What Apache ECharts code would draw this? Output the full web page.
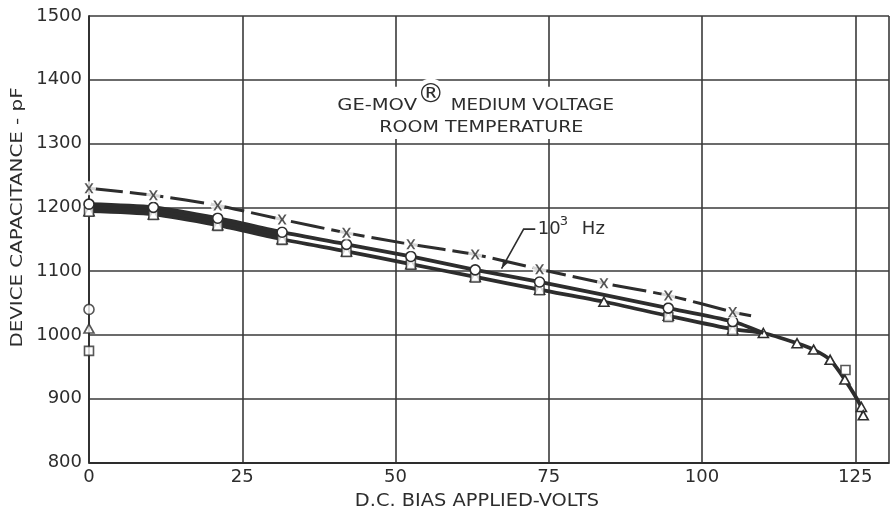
<!DOCTYPE html>
<html><head><meta charset="utf-8">
<script src="https://cdn.jsdelivr.net/npm/echarts@6/dist/echarts.min.js"></script>
<style>html,body{margin:0;padding:0;background:#fff}#c{width:892px;height:518px}</style>
</head><body><div id="c"></div>
<script>
// ---- tick labels ----
const xTickValues = [0, 25, 50, 75, 100, 125];
const yTickValues = [800, 900, 1000, 1100, 1200, 1300, 1400, 1500];

// ---- series: "x" markers (dashed curve) ----
const voltsX = [0, 10.5, 21, 31.5, 42, 52.5, 63, 73.5, 84, 94.5, 105];
const capX   = [1230, 1219, 1203, 1181, 1160, 1142, 1126, 1103, 1081, 1062, 1036];
const voltsXTail = 108;
const capXTail = 1030;

// ---- series: circles (upper edge of band, 10^3 Hz) ----
const voltsCircle = [0, 10.5, 21, 31.5, 42, 52.5, 63, 73.5, 94.5, 105];
const capCircle   = [1205, 1200, 1183, 1161, 1142, 1123, 1102, 1083, 1042, 1021];
const circleJoinVolts = 110;
const circleJoinCap = 1003;

// ---- series: triangles (lower curve, continues to breakdown) ----
const voltsTri = [0, 10.5, 21, 31.5, 42, 52.5, 63, 73.5, 84, 94.5, 105, 110, 115.5, 118.2, 120.9, 123.3, 126, 126.3];
const capTri   = [1194, 1189, 1172, 1150, 1131, 1111, 1091, 1071, 1052, 1030, 1009, 1003, 987, 977, 961, 930, 887, 874];

// ---- series: squares ----
const voltsSquare = [0, 10.5, 21, 31.5, 42, 52.5, 63, 73.5, 94.5, 105, 123.4];
const capSquare   = [1193, 1188, 1171, 1149, 1130, 1110, 1090, 1070, 1028, 1007, 945];

// ---- isolated initial readings at 0 V ----
const initCircle = [0, 1040];
const initTri = [0, 1010];
const initSquare = [0, 975];

const INK = '#2d2d2d';
const GRIDC = '#3a3a3a';
const FONT = '"DejaVu Sans", sans-serif';
const pair = (xs, ys) => xs.map((x, i) => [x, ys[i]]);
const xPath = 'path://M0,0L2.3,0L5,3.7L7.7,0L10,0L6.3,5L10,10L7.7,10L5,6.3L2.3,10L0,10L3.7,5Z';
const BAND_LAST = 3;

const chart = echarts.init(document.getElementById('c'), null, {renderer: 'canvas'});

const option = {
  animation: false,
  backgroundColor: '#ffffff',
  grid: {left: 89, top: 16, right: 0, bottom: 55.5, containLabel: false},
  xAxis: {
    type: 'value', min: 0, max: 130.5, interval: 25,
    axisLine: {show: true, lineStyle: {color: INK, width: 1.8}},
    axisTick: {show: false},
    splitLine: {show: true, lineStyle: {color: GRIDC, width: 1.6}},
    axisLabel: {
      margin: 6, color: INK, fontFamily: FONT, fontSize: 18,
      formatter: v => xTickValues.indexOf(v) >= 0 ? String(v) : ''
    }
  },
  yAxis: {
    type: 'value', min: 800, max: 1500, interval: 100,
    axisLine: {show: true, lineStyle: {color: INK, width: 1.8}},
    axisTick: {show: false},
    splitLine: {show: true, lineStyle: {color: GRIDC, width: 1.6}},
    axisLabel: {
      margin: 7, color: INK, fontFamily: FONT, fontSize: 18,
      formatter: v => yTickValues.indexOf(v) >= 0 ? String(v) : ''
    }
  },
  series: [
    { // dark band between the two curves at low bias
      type: 'custom', z: 2,
      data: [[0, 1200]],
      encode: {x: 0, y: 1},
      renderItem: (params, api) => {
        const top = [], bot = [];
        for (let i = 0; i <= BAND_LAST; i++) top.push(api.coord([voltsCircle[i], capCircle[i]]));
        for (let i = BAND_LAST; i >= 0; i--) bot.push(api.coord([voltsTri[i], capTri[i]]));
        return {type: 'polygon', shape: {points: top.concat(bot)}, style: {fill: INK}};
      }
    },
    { // lower curve, triangles
      type: 'line', z: 3, smooth: 0.25,
      data: pair(voltsTri, capTri),
      symbol: 'triangle', symbolSize: [10, 9],
      itemStyle: {color: '#fff', borderColor: INK, borderWidth: 1.6},
      lineStyle: {color: INK, width: 3.8}
    },
    { // squares
      type: 'scatter', z: 4,
      data: pair(voltsSquare, capSquare),
      symbol: 'rect', symbolSize: 9,
      itemStyle: {color: '#fff', borderColor: INK, borderWidth: 1.6}
    },
    { // upper curve, circles
      type: 'line', z: 5, smooth: 0.25,
      data: pair(voltsCircle, capCircle).concat([{value: [circleJoinVolts, circleJoinCap], symbol: 'none'}]),
      symbol: 'circle', symbolSize: 10,
      itemStyle: {color: '#fff', borderColor: INK, borderWidth: 1.6},
      lineStyle: {color: INK, width: 3.8}
    },
    { // "x" curve line
      type: 'line', z: 5, smooth: 0.2, symbol: 'none',
      data: pair(voltsX, capX).concat([[voltsXTail, capXTail]]),
      lineStyle: {color: INK, width: 3, type: [34, 7]}
    },
    { // white halo around x marks
      type: 'scatter', z: 6, silent: true,
      data: pair(voltsX, capX),
      symbol: 'circle', symbolSize: 14,
      itemStyle: {color: '#fff'}
    },
    { // x marks
      type: 'scatter', z: 7,
      data: pair(voltsX, capX),
      symbol: xPath, symbolSize: [9, 10],
      itemStyle: {color: INK}
    },
    { // isolated readings at 0 V
      type: 'scatter', z: 7,
      data: [
        {value: initCircle, symbol: 'circle', symbolSize: 10},
        {value: initTri, symbol: 'triangle', symbolSize: [10, 9]},
        {value: initSquare, symbol: 'rect', symbolSize: 9}
      ],
      itemStyle: {color: '#fff', borderColor: INK, borderWidth: 1.6}
    }
  ]
};
chart.setOption(option);

function buildGraphic() {
  const P = (x, y) => chart.convertToPixel({xAxisIndex: 0, yAxisIndex: 0}, [x, y]);
  const f = s => s + 'px ' + FONT;
  const els = [];
  const b0 = P(39.7, 1389), b1 = P(87.6, 1307);
  els.push({type: 'rect', z: 1, shape: {x: b0[0], y: b0[1], width: b1[0] - b0[0], height: b1[1] - b0[1]}, style: {fill: '#fff'}});
  const r = P(55.75, 1375.5);
  els.push({type: 'circle', z: 1, shape: {cx: r[0], cy: r[1] - 1, r: 16}, style: {fill: '#fff'}});
  const t1 = P(40.5, 1358.5);
  els.push({type: 'text', z: 10, x: t1[0], y: t1[1], scaleX: 1.22,
    style: {text: 'GE-MOV', font: f(16), fill: INK, align: 'left', verticalAlign: 'middle'}});
  els.push({type: 'text', z: 10, x: r[0], y: r[1],
    style: {text: '\u00AE', font: f(27), fill: INK, align: 'center', verticalAlign: 'middle'}});
  const t2 = P(59.0, 1358.5);
  els.push({type: 'text', z: 10, x: t2[0], y: t2[1], scaleX: 1.14,
    style: {text: 'MEDIUM VOLTAGE', font: f(16), fill: INK, align: 'left', verticalAlign: 'middle'}});
  const t3 = P(64.0, 1324.8);
  els.push({type: 'text', z: 10, x: t3[0], y: t3[1], scaleX: 1.19,
    style: {text: 'ROOM TEMPERATURE', font: f(16), fill: INK, align: 'center', verticalAlign: 'middle'}});
  // 10^3 Hz label
  const h1 = P(73.2, 1165), h2 = P(76.8, 1178), h3 = P(80.4, 1165);
  els.push({type: 'text', z: 10, x: h1[0], y: h1[1], style: {text: '10', font: f(18), fill: INK, align: 'left', verticalAlign: 'middle'}});
  els.push({type: 'text', z: 10, x: h2[0], y: h2[1], style: {text: '3', font: f(13), fill: INK, align: 'left', verticalAlign: 'middle'}});
  els.push({type: 'text', z: 10, x: h3[0], y: h3[1], style: {text: 'Hz', font: f(18), fill: INK, align: 'left', verticalAlign: 'middle'}});
  const l0 = P(72.8, 1165.8), l1 = P(70.9, 1165.8), l2 = P(67.3, 1104);
  els.push({type: 'polyline', z: 10, shape: {points: [l0, l1, l2]}, style: {stroke: INK, lineWidth: 1.6, fill: null}});
  const dx = l2[0] - l1[0], dy = l2[1] - l1[1], len = Math.hypot(dx, dy);
  const ux = dx / len, uy = dy / len, nx = -uy, ny = ux;
  const al = 9, aw = 3;
  const base = [l2[0] - ux * al, l2[1] - uy * al];
  els.push({type: 'polygon', z: 10, shape: {points: [l2, [base[0] + nx * aw, base[1] + ny * aw], [base[0] - nx * aw, base[1] - ny * aw]]}, style: {fill: INK}});
  // axis titles
  els.push({type: 'text', z: 10, x: 18, y: 217.5, rotation: Math.PI / 2, scaleX: 1.24,
    style: {text: 'DEVICE CAPACITANCE - pF', font: f(16), fill: INK, align: 'center', verticalAlign: 'middle'}});
  els.push({type: 'text', z: 10, x: 477, y: 502, scaleX: 1.14,
    style: {text: 'D.C. BIAS APPLIED-VOLTS', font: f(17), fill: INK, align: 'center', verticalAlign: 'middle'}});
  chart.setOption({graphic: {elements: els}});
}
buildGraphic();
</script>
</body></html>
